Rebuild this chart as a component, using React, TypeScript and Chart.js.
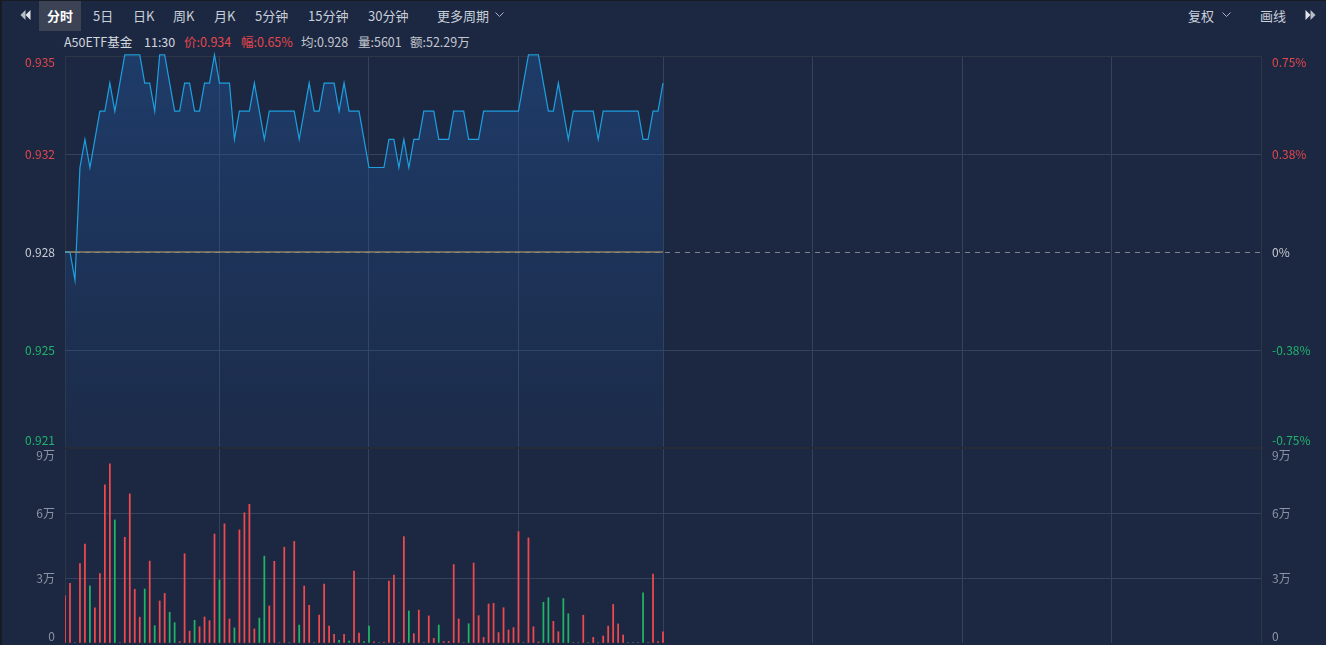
import React, { useEffect, useRef } from 'react';
import { Chart, registerables } from 'chart.js';

Chart.register(...registerables);

// ---------------- data ----------------
const preClose = 0.928;
const pctTickValues = [0.75, 0.375, 0, -0.375, -0.75];
const priceTickLabels = ['0.935', '0.932', '0.928', '0.925', '0.921'];
const pctTickLabels = ['0.75%', '0.38%', '0%', '-0.38%', '-0.75%'];
const volTickValues = [90000, 60000, 30000, 0];
const volTickLabels = ['9万', '6万', '3万', '0'];
const gridMinutes = [0, 31, 61, 91, 120, 150, 180, 210, 240];
const totalMinutes = 240;

const prices = [
  0.928, 0.928, 0.927, 0.931, 0.932, 0.931, 0.932, 0.933, 0.933, 0.934,
  0.933, 0.934, 0.935, 0.935, 0.935, 0.935, 0.934, 0.934, 0.933, 0.935,
  0.935, 0.934, 0.933, 0.933, 0.934, 0.934, 0.933, 0.933, 0.934, 0.934,
  0.935, 0.934, 0.934, 0.934, 0.932, 0.933, 0.933, 0.933, 0.934, 0.933,
  0.932, 0.933, 0.933, 0.933, 0.933, 0.933, 0.933, 0.932, 0.933, 0.934,
  0.933, 0.933, 0.934, 0.934, 0.934, 0.933, 0.934, 0.933, 0.933, 0.933,
  0.932, 0.931, 0.931, 0.931, 0.931, 0.932, 0.932, 0.931, 0.932, 0.931,
  0.932, 0.932, 0.933, 0.933, 0.933, 0.932, 0.932, 0.932, 0.933, 0.933,
  0.933, 0.932, 0.932, 0.932, 0.933, 0.933, 0.933, 0.933, 0.933, 0.933,
  0.933, 0.933, 0.934, 0.935, 0.935, 0.935, 0.934, 0.933, 0.933, 0.934,
  0.933, 0.932, 0.933, 0.933, 0.933, 0.933, 0.933, 0.932, 0.933, 0.933,
  0.933, 0.933, 0.933, 0.933, 0.933, 0.933, 0.932, 0.932, 0.933, 0.933,
  0.934,
];

const avgPrices = [
  0.928, 0.928, 0.928, 0.928, 0.928, 0.928, 0.928, 0.928, 0.928, 0.928,
  0.928, 0.928, 0.928, 0.928, 0.928, 0.928, 0.928, 0.928, 0.928, 0.928,
  0.928, 0.928, 0.928, 0.928, 0.928, 0.928, 0.928, 0.928, 0.928, 0.928,
  0.928, 0.928, 0.928, 0.928, 0.928, 0.928, 0.928, 0.928, 0.928, 0.928,
  0.928, 0.928, 0.928, 0.928, 0.928, 0.928, 0.928, 0.928, 0.928, 0.928,
  0.928, 0.928, 0.928, 0.928, 0.928, 0.928, 0.928, 0.928, 0.928, 0.928,
  0.928, 0.928, 0.928, 0.928, 0.928, 0.928, 0.928, 0.928, 0.928, 0.928,
  0.928, 0.928, 0.928, 0.928, 0.928, 0.928, 0.928, 0.928, 0.928, 0.928,
  0.928, 0.928, 0.928, 0.928, 0.928, 0.928, 0.928, 0.928, 0.928, 0.928,
  0.928, 0.928, 0.928, 0.928, 0.928, 0.928, 0.928, 0.928, 0.928, 0.928,
  0.928, 0.928, 0.928, 0.928, 0.928, 0.928, 0.928, 0.928, 0.928, 0.928,
  0.928, 0.928, 0.928, 0.928, 0.928, 0.928, 0.928, 0.928, 0.928, 0.928,
  0.928,
];

const volumes = [
  21800, 27500, 300, 36600, 45700, 26400, 16200, 32000, 73000, 82700,
  56800, 200, 48800, 68800, 24800, 11900, 24900, 37800, 8000, 19400,
  22900, 14200, 9400, 600, 41200, 5500, 10500, 7500, 12000, 10300,
  50300, 29100, 55000, 11100, 7000, 52200, 60100, 64000, 6500, 11500,
  40100, 17100, 37700, 200, 44200, 200, 46900, 8300, 26300, 17400,
  200, 12900, 27200, 7800, 4000, 1200, 4000, 900, 33200, 4600,
  700, 7800, 500, 200, 300, 28600, 31400, 200, 49100, 14800,
  4300, 15200, 200, 12500, 2100, 8300, 600, 700, 36200, 11100,
  200, 8900, 36900, 12600, 2600, 18000, 18300, 4800, 16300, 6000,
  7100, 51400, 300, 48500, 7500, 500, 18800, 20900, 10000, 5200,
  20500, 13500, 300, 200, 12800, 200, 2600, 200, 3200, 7800,
  17800, 8800, 3700, 200, 300, 300, 23100, 200, 31800, 700,
  5200,
];

// r = up (red), g = down (green), n = flat (grey)
const volDirs = [
  'r', 'r', 'n', 'r', 'r', 'g', 'r', 'r', 'r', 'r',
  'g', 'n', 'r', 'r', 'r', 'r', 'g', 'r', 'g', 'r',
  'r', 'g', 'g', 'r', 'r', 'r', 'g', 'r', 'r', 'r',
  'r', 'g', 'r', 'r', 'g', 'r', 'r', 'r', 'r', 'g',
  'g', 'r', 'r', 'n', 'r', 'n', 'r', 'g', 'r', 'r',
  'n', 'r', 'r', 'r', 'r', 'g', 'r', 'g', 'r', 'r',
  'g', 'g', 'r', 'n', 'r', 'r', 'r', 'n', 'r', 'g',
  'r', 'r', 'n', 'r', 'r', 'g', 'r', 'r', 'r', 'r',
  'n', 'g', 'r', 'r', 'r', 'r', 'r', 'r', 'r', 'r',
  'r', 'r', 'n', 'r', 'r', 'r', 'g', 'g', 'r', 'r',
  'g', 'g', 'n', 'n', 'r', 'n', 'r', 'n', 'r', 'r',
  'r', 'r', 'r', 'n', 'n', 'n', 'g', 'n', 'r', 'r',
  'r',
];

// ---------------- styles ----------------
const BG = '#1c2842';
const GRID = '#34435c';
const EDGE = '#2d3646';
const SEP = '#262c37';
const RED = '#e5474c';
const GREEN = '#1fb46b';
const LABEL_GREY = '#c8cbd2';
const VOL_LABEL = '#8b94a5';
const LINE_BLUE = '#1e9fe0';
const FONT = '"Noto Sans CJK SC", "Noto Sans", sans-serif';
const dirColor: Record<string, string> = { r: '#f0484c', g: '#20b467', n: '#5d6676' };

const priceMin = preClose * (1 - pctTickValues[0] / 100);
const priceMax = preClose * (1 + pctTickValues[0] / 100);
const priceTickValues = pctTickValues.map((p) => preClose * (1 + p / 100));
const priceLabelColors = pctTickValues.map((p) => (p > 0 ? RED : p < 0 ? GREEN : LABEL_GREY));

const near = (a: number, b: number) => Math.abs(a - b) < 1e-7;

const axisLabelPlugin = {
  id: 'axisLabels',
  afterDraw(chart: any, _args: any, opts: any) {
    const { ctx, chartArea } = chart;
    ctx.save();
    ctx.font = '12px ' + FONT;
    ctx.textBaseline = 'middle';
    for (const side of opts.sides || []) {
      const scale = chart.scales[side.scaleId];
      side.values.forEach((v: number, i: number) => {
        let y = scale.getPixelForValue(v);
        y = Math.min(Math.max(y, chartArea.top + side.padTop), chartArea.bottom - side.padBottom);
        ctx.fillStyle = side.colors[i];
        ctx.textAlign = side.align;
        ctx.fillText(side.labels[i], side.x, y);
      });
    }
    ctx.restore();
  },
};

const prevClosePlugin = {
  id: 'prevClose',
  beforeDatasetsDraw(chart: any) {
    const { ctx, chartArea } = chart;
    const s = chart.scales.y;
    const y = Math.round(s.getPixelForValue(preClose)) + 0.5;
    ctx.save();
    ctx.strokeStyle = '#7d828b';
    ctx.lineWidth = 1;
    ctx.setLineDash([5, 5]);
    ctx.beginPath();
    ctx.moveTo(chartArea.left, y);
    ctx.lineTo(chartArea.right, y);
    ctx.stroke();
    ctx.restore();
  },
};

function makeX() {
  return {
    type: 'linear',
    min: 0,
    max: totalMinutes,
    offset: false,
    afterBuildTicks: (s: any) => {
      s.ticks = gridMinutes.map((v) => ({ value: v }));
    },
    afterFit: (s: any) => {
      s.height = 0;
    },
    ticks: { display: false },
    border: { display: false },
    grid: {
      offset: false,
      drawTicks: false,
      lineWidth: 1,
      color: (c: any) =>
        c.tick && (c.tick.value === 0 || c.tick.value === totalMinutes) ? EDGE : GRID,
    },
  };
}

export default function App() {
  const priceRef = useRef<HTMLCanvasElement>(null);
  const volRef = useRef<HTMLCanvasElement>(null);

  useEffect(() => {
    document.body.style.margin = '0';
    document.body.style.background = BG;

    const priceChart = new Chart(priceRef.current as HTMLCanvasElement, {
      type: 'line',
      data: {
        datasets: [
          {
            data: prices.map((p, i) => ({ x: i, y: p })),
            borderColor: LINE_BLUE,
            borderWidth: 1.2,
            pointRadius: 0,
            tension: 0,
            fill: 'start',
            clip: 4,
            backgroundColor: (c: any) => {
              const area = c.chart.chartArea;
              if (!area) return 'rgba(34,92,168,0.2)';
              const g = c.chart.ctx.createLinearGradient(0, area.top, 0, area.bottom);
              g.addColorStop(0, 'rgba(34,92,168,0.38)');
              g.addColorStop(1, 'rgba(34,92,168,0.07)');
              return g;
            },
          },
          {
            data: avgPrices.map((p, i) => ({ x: i, y: p })),
            borderColor: 'rgba(205,158,80,0.8)',
            borderWidth: 1.5,
            pointRadius: 0,
            tension: 0,
            fill: false,
          },
        ],
      } as any,
      options: {
        responsive: false,
        animation: false,
        events: [],
        layout: { padding: { top: 56, bottom: 2, left: 0, right: 0 } },
        scales: {
          x: makeX(),
          y: {
            type: 'linear',
            position: 'left',
            min: priceMin,
            max: priceMax,
            afterBuildTicks: (s: any) => {
              s.ticks = priceTickValues.map((v) => ({ value: v }));
            },
            afterFit: (s: any) => {
              s.width = 65;
            },
            ticks: { display: false },
            border: { display: false },
            grid: {
              drawTicks: false,
              color: (c: any) => {
                const v = c.tick ? c.tick.value : 0;
                if (near(v, priceMax)) return EDGE;
                if (near(v, priceMin) || near(v, preClose)) return 'rgba(0,0,0,0)';
                return GRID;
              },
            },
          },
          yp: {
            type: 'linear',
            position: 'right',
            min: pctTickValues[4],
            max: pctTickValues[0],
            afterFit: (s: any) => {
              s.width = 65;
            },
            ticks: { display: false },
            border: { display: false },
            grid: { display: false },
          },
        },
        plugins: {
          legend: { display: false },
          tooltip: { enabled: false },
          axisLabels: {
            sides: [
              {
                scaleId: 'y',
                values: priceTickValues,
                labels: priceTickLabels,
                colors: priceLabelColors,
                align: 'right',
                x: 55,
                padTop: 6,
                padBottom: 8,
              },
              {
                scaleId: 'yp',
                values: pctTickValues,
                labels: pctTickLabels,
                colors: priceLabelColors,
                align: 'left',
                x: 1272,
                padTop: 6,
                padBottom: 8,
              },
            ],
          },
        } as any,
      },
      plugins: [prevClosePlugin, axisLabelPlugin],
    } as any);

    const volChart = new Chart(volRef.current as HTMLCanvasElement, {
      type: 'bar',
      data: {
        datasets: [
          {
            data: volumes.map((v, i) => ({ x: i, y: v })),
            backgroundColor: volDirs.map((d) => dirColor[d]),
            barThickness: 1.1,
            yAxisID: 'yv',
          },
        ],
      } as any,
      options: {
        responsive: false,
        animation: false,
        events: [],
        layout: { padding: { top: 1, bottom: 2, left: 0, right: 0 } },
        scales: {
          x: makeX(),
          yv: {
            type: 'linear',
            position: 'left',
            min: 0,
            max: volTickValues[0],
            afterBuildTicks: (s: any) => {
              s.ticks = volTickValues.map((v) => ({ value: v }));
            },
            afterFit: (s: any) => {
              s.width = 65;
            },
            ticks: { display: false },
            border: { display: false },
            grid: {
              drawTicks: false,
              lineWidth: (c: any) => (c.tick && c.tick.value === volTickValues[0] ? 2 : 1),
              color: (c: any) => {
                const v = c.tick ? c.tick.value : 0;
                if (v === volTickValues[0]) return SEP;
                if (v === 0) return 'rgba(0,0,0,0)';
                return GRID;
              },
            },
          },
          yvr: {
            type: 'linear',
            position: 'right',
            min: 0,
            max: volTickValues[0],
            afterFit: (s: any) => {
              s.width = 65;
            },
            ticks: { display: false },
            border: { display: false },
            grid: { display: false },
          },
        },
        plugins: {
          legend: { display: false },
          tooltip: { enabled: false },
          axisLabels: {
            sides: [
              {
                scaleId: 'yv',
                values: volTickValues,
                labels: volTickLabels,
                colors: volTickValues.map(() => VOL_LABEL),
                align: 'right',
                x: 55,
                padTop: 7,
                padBottom: 7,
              },
              {
                scaleId: 'yvr',
                values: volTickValues,
                labels: volTickLabels,
                colors: volTickValues.map(() => VOL_LABEL),
                align: 'left',
                x: 1272,
                padTop: 7,
                padBottom: 7,
              },
            ],
          },
        } as any,
      },
      plugins: [axisLabelPlugin],
    } as any);

    return () => {
      priceChart.destroy();
      volChart.destroy();
    };
  }, []);

  const tb: React.CSSProperties = {
    position: 'absolute',
    top: 0,
    height: 31,
    lineHeight: '31px',
    fontSize: 13,
    color: '#c9cfd9',
    whiteSpace: 'nowrap',
  };
  const info: React.CSSProperties = {
    position: 'absolute',
    top: 34,
    height: 15,
    lineHeight: '15px',
    fontSize: 12.5,
    color: '#c3c7cf',
    whiteSpace: 'nowrap',
  };

  return (
    <div
      style={{
        position: 'fixed',
        left: 0,
        top: 0,
        width: 1326,
        height: 645,
        background: BG,
        overflow: 'hidden',
        fontFamily: FONT,
      }}
    >
      <div style={{ position: 'absolute', left: 0, top: 0, width: 2, height: 645, background: '#161b24' }} />
      <div style={{ position: 'absolute', left: 0, top: 0, width: 1326, height: 1, background: '#161b24' }} />

      {/* toolbar */}
      <svg width="11" height="10" viewBox="0 0 11 10" style={{ position: 'absolute', left: 20, top: 10 }}>
        <path d="M5.5 0 L0.5 5 L5.5 10 Z" fill="#b9bfca" />
        <path d="M10.5 0 L5.5 5 L10.5 10 Z" fill="#e2e5ea" />
      </svg>
      <div
        style={{
          ...tb,
          left: 39,
          top: 1,
          height: 30,
          lineHeight: '30px',
          width: 42,
          textAlign: 'center',
          background: '#3b4354',
          color: '#ffffff',
          fontWeight: 700,
        }}
      >
        分时
      </div>
      <div style={{ ...tb, left: 93 }}>5日</div>
      <div style={{ ...tb, left: 133 }}>日K</div>
      <div style={{ ...tb, left: 173 }}>周K</div>
      <div style={{ ...tb, left: 214 }}>月K</div>
      <div style={{ ...tb, left: 255 }}>5分钟</div>
      <div style={{ ...tb, left: 308 }}>15分钟</div>
      <div style={{ ...tb, left: 368 }}>30分钟</div>
      <div style={{ ...tb, left: 437 }}>更多周期</div>
      <svg width="9" height="6" viewBox="0 0 9 6" style={{ position: 'absolute', left: 495, top: 12 }}>
        <polyline points="0.5,0.5 4.5,4.5 8.5,0.5" fill="none" stroke="#aab2c0" strokeWidth="1" />
      </svg>
      <div style={{ ...tb, left: 1188 }}>复权</div>
      <svg width="9" height="6" viewBox="0 0 9 6" style={{ position: 'absolute', left: 1222, top: 12 }}>
        <polyline points="0.5,0.5 4.5,4.5 8.5,0.5" fill="none" stroke="#aab2c0" strokeWidth="1" />
      </svg>
      <div style={{ ...tb, left: 1260 }}>画线</div>
      <svg width="11" height="10" viewBox="0 0 11 10" style={{ position: 'absolute', left: 1305, top: 10 }}>
        <path d="M0.5 0 L5.5 5 L0.5 10 Z" fill="#e2e5ea" />
        <path d="M5.5 0 L10.5 5 L5.5 10 Z" fill="#b9bfca" />
      </svg>

      {/* info line */}
      <div style={{ ...info, left: 64, color: '#d3d7de' }}>A50ETF基金</div>
      <div style={{ ...info, left: 144, color: '#d3d7de' }}>11:30</div>
      <div style={{ ...info, left: 184, color: RED }}>价:0.934</div>
      <div style={{ ...info, left: 241, color: RED }}>幅:0.65%</div>
      <div style={{ ...info, left: 301 }}>均:0.928</div>
      <div style={{ ...info, left: 358 }}>量:5601</div>
      <div style={{ ...info, left: 410 }}>额:52.29万</div>

      <canvas
        ref={priceRef}
        width={1326}
        height={450}
        style={{ position: 'absolute', left: 0, top: 0, width: 1326, height: 450 }}
      />
      <canvas
        ref={volRef}
        width={1326}
        height={198}
        style={{ position: 'absolute', left: 0, top: 447, width: 1326, height: 198 }}
      />
    </div>
  );
}
